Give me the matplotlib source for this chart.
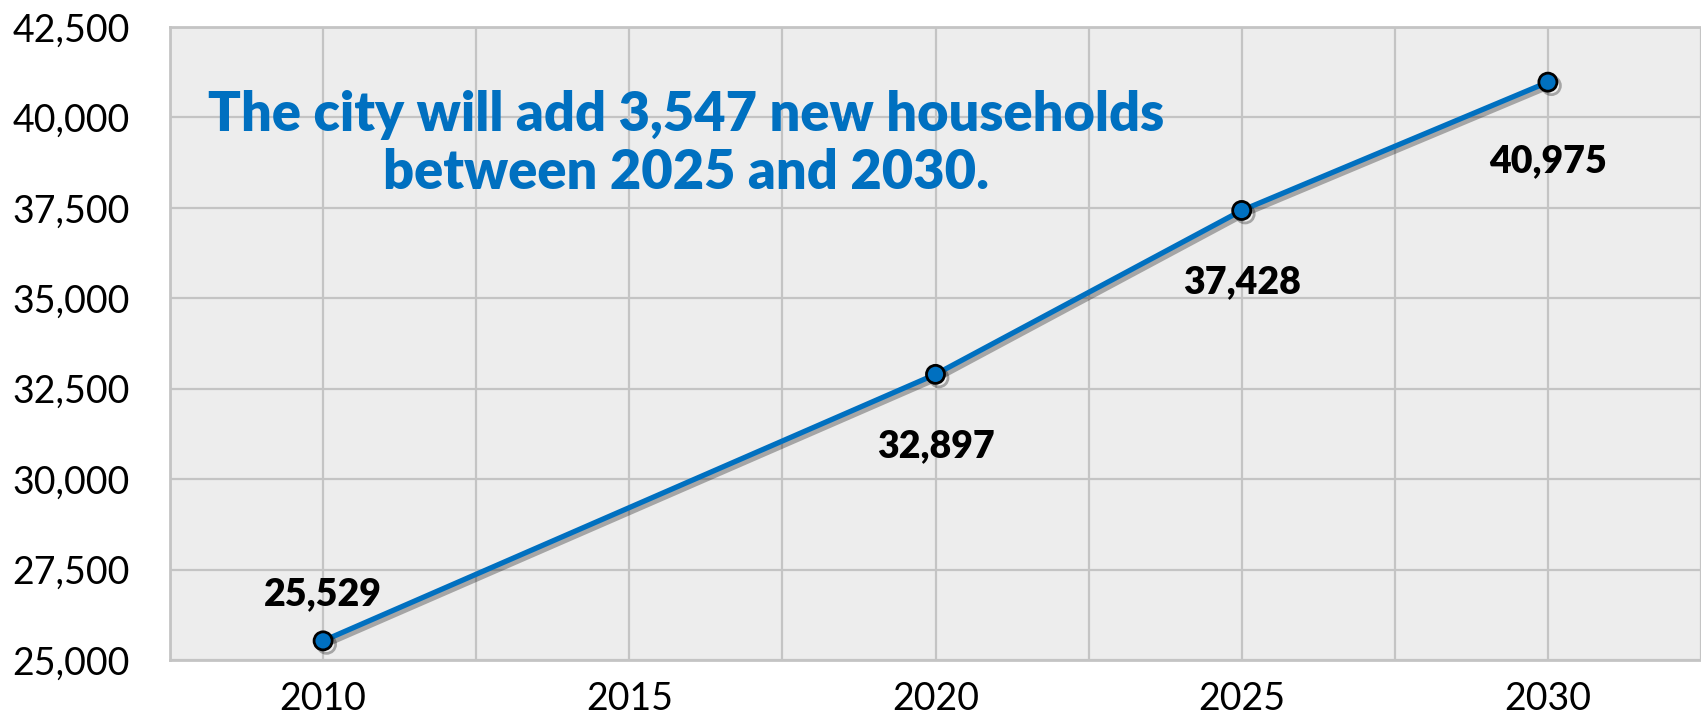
import matplotlib
matplotlib.use("Agg")
import matplotlib.pyplot as plt
import matplotlib.patheffects as pe
from matplotlib.ticker import FuncFormatter

years = [2010, 2020, 2025, 2030]
households = [25529, 32897, 37428, 40975]
label_offsets = [47, -72, -72, -79]  # pixel offsets of data labels
x_ticks = [2010, 2015, 2020, 2025, 2030]
y_ticks = [25000, 27500, 30000, 32500, 35000, 37500, 40000, 42500]
title_lines = "The city will add 3,547 new households\nbetween 2025 and 2030."

blue = "#0070C0"
grid_c = "#C4C4C4"

fig = plt.figure(figsize=(17.01, 7.19), dpi=100)
ax = fig.add_axes([170/1701, 1-660/719, 1-170/1701, (660-27)/719])
ax.set_facecolor("#EDEDED")
ax.set_xlim(2007.5, 2007.5 + (1701-170)/308*5)
ax.set_ylim(25000, 42500)

ax.set_xticks(x_ticks)
ax.set_xticks([2007.5 + 2.5*i for i in range(11)], minor=True)
ax.set_yticks(y_ticks)
ax.yaxis.set_major_formatter(FuncFormatter(lambda v, p: f"{int(v):,}"))
ax.grid(True, which="both", axis="x", color=grid_c, lw=1.6)
ax.grid(True, which="major", axis="y", color=grid_c, lw=1.6)
ax.set_axisbelow(True)
ax.tick_params(which="both", length=0)
ax.tick_params(axis="x", pad=15, labelsize=27)
ax.tick_params(axis="y", pad=29, labelsize=27)
for lab in ax.get_xticklabels() + ax.get_yticklabels():
    lab.set_fontfamily("Lato")
for s in ["top", "left", "bottom"]:
    ax.spines[s].set_color(grid_c)
    ax.spines[s].set_linewidth(2)
ax.spines["right"].set_visible(False)

shadow = [pe.SimpleLineShadow(offset=(2.5, -2.5), shadow_color="black", alpha=0.3), pe.Normal()]
ax.plot(years, households, color=blue, lw=3.8, marker="o", ms=13,
        markerfacecolor=blue, markeredgecolor="black", markeredgewidth=2,
        path_effects=shadow, zorder=3, clip_on=False)

for x, y, off in zip(years, households, label_offsets):
    ax.annotate(f"{y:,}", (x, y), xytext=(0, off*0.72), textcoords="offset points",
                ha="center", va="center", fontsize=27, fontweight="heavy",
                fontfamily="Lato", color="black")

fig.text(686/1701, 1-144/719, title_lines, ha="center", va="center",
         fontsize=39, fontweight="heavy", fontfamily="Lato", color=blue,
         linespacing=1.2)

fig.savefig("out.png", dpi=100)
